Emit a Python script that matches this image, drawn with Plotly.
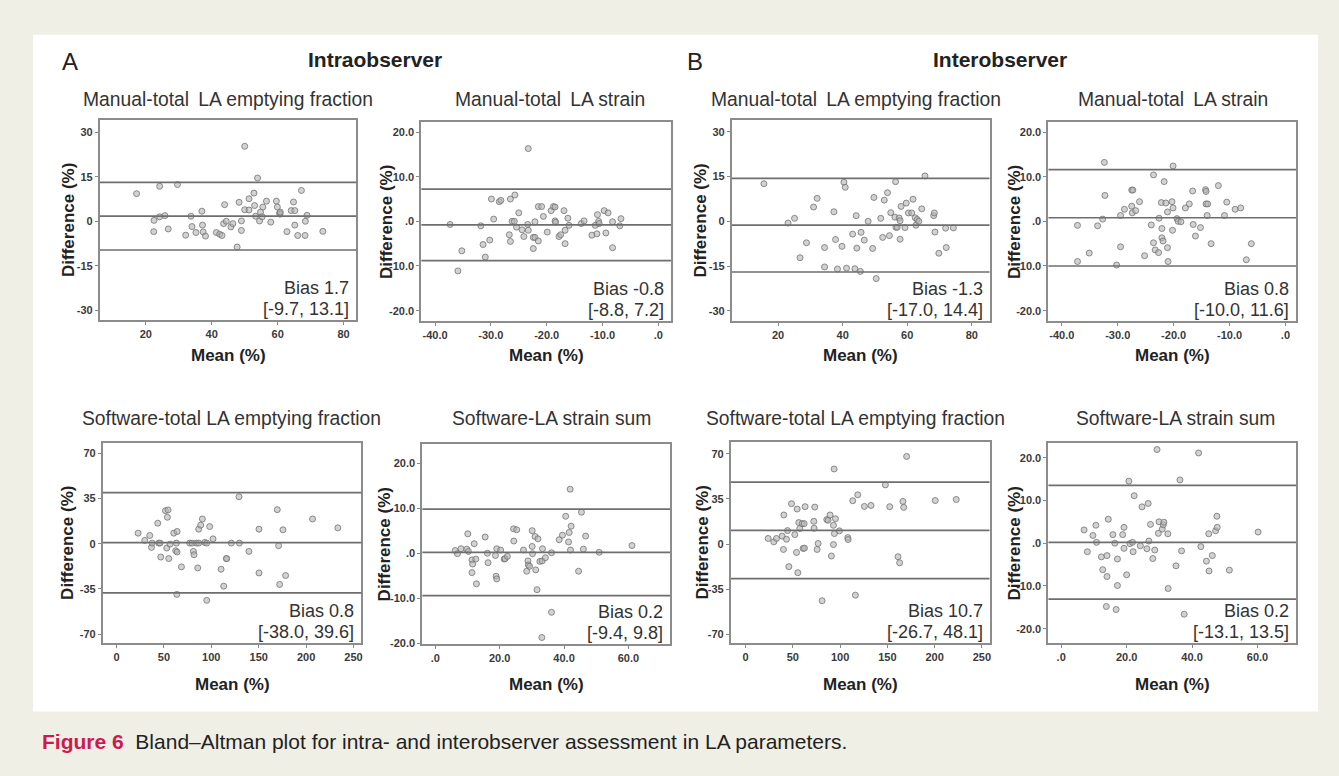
import plotly.graph_objects as go

W, H = 1339, 776

# ---------------- data ----------------
titles = ["Manual-total\u2009 LA emptying fraction", "Manual-total\u2009 LA strain",
          "Manual-total\u2009 LA emptying fraction", "Manual-total\u2009 LA strain",
          "Software-total LA emptying fraction", "Software-LA strain sum",
          "Software-total LA emptying fraction", "Software-LA strain sum"]
bias = [1.7, -0.8, -1.3, 0.8, 0.8, 0.2, 10.7, 0.2]
lower = [-9.7, -8.8, -17.0, -10.0, -38.0, -9.4, -26.7, -13.1]
upper = [13.1, 7.2, 14.4, 11.6, 39.6, 9.8, 48.1, 13.5]

# Intraobserver, manual total LA emptying fraction
p1_mean = [17.2, 24.2, 29.6, 22.5, 22.4, 24.2, 25.8, 26.8, 32.1, 33.7, 34.0, 35.2, 37.0, 37.2, 37.4, 38.1,
           41.4, 42.4, 43.1, 43.9, 43.6, 44.4, 45.8, 46.4, 48.3, 49.0, 49.0, 50.0, 51.3, 47.7, 50.0, 51.3,
           52.8, 53.0, 53.9, 53.3, 54.5, 54.8, 55.3, 55.5, 56.6, 57.9, 59.6, 59.9, 60.6, 60.7, 60.8, 62.8,
           64.1, 64.8, 65.2, 65.2, 66.1, 67.2, 68.3, 68.4, 68.9, 73.7]
p1_diff = [9.3, 11.8, 12.4, 0.3, -3.5, 1.5, 1.9, -2.6, -4.7, 1.7, -1.8, -3.8, 3.4, -1.3, -3.6, -5.0,
           -3.8, -4.4, -4.8, 5.6, -0.8, 0.0, -1.9, -0.8, 6.4, 0.1, -3.1, 3.9, 3.8, -8.7, 25.3, 7.6,
           9.5, 5.3, 14.6, 1.7, 0.1, 3.1, 1.5, 4.8, 6.8, -0.3, 6.8, 4.8, 2.8, 2.4, 3.1, -3.5,
           3.6, 6.5, 3.6, -1.3, -4.8, 10.4, -4.8, 0.0, 2.0, -3.4]

# Intraobserver, manual total LA strain
p2_mean = [-37.3, -31.8, -35.2, -35.9, -31.4, -31.0, -30.2, -29.9, -29.5, -28.5, -28.2, -26.5, -25.7, -26.7,
           -26.5, -26.2, -25.8, -25.4, -25.0, -24.4, -24.1, -23.4, -23.3, -23.3, -22.4, -22.4, -22.1, -22.1,
           -21.5, -21.5, -20.9, -20.6, -19.9, -19.2, -18.8, -18.5, -18.5, -18.4, -17.8, -17.5, -16.9, -16.7,
           -16.7, -16.2, -16.0, -13.8, -13.3, -11.9, -11.3, -11.0, -10.9, -10.7, -10.6, -9.7, -9.4, -9.0,
           -8.2, -8.2, -6.9, -6.7]
p2_diff = [-0.7, -1.0, -6.6, -11.1, -5.2, -8.0, -4.2, 5.0, 0.5, 4.4, 4.7, 5.0, 5.9, -3.0,
           -4.5, 0.0, 0.0, -1.3, 1.9, -1.9, -3.4, -0.7, 16.3, -2.0, -3.6, -6.1, -0.1, -3.6,
           -4.4, 3.3, 3.3, 1.1, -2.4, 2.4, 3.3, 3.2, 0.1, -0.2, -3.4, -3.0, 2.4, -2.0,
           -5.0, 0.7, -0.9, -0.5, 0.1, -3.1, -0.9, -2.8, 1.5, 0.0, -0.5, 2.4, -2.6, 1.9,
           -5.9, -0.1, -1.0, 0.6]

# Interobserver, manual total LA emptying fraction
p3_mean = [15.6, 23.1, 25.1, 26.8, 28.8, 31.0, 32.1, 34.4, 34.4, 37.3, 37.8, 38.4, 39.8, 40.4, 40.8, 41.2,
           43.1, 43.8, 44.2, 44.4, 45.5, 45.7, 46.7, 47.9, 49.3, 49.7, 50.4, 51.8, 52.4, 52.9, 53.9, 54.5,
           54.9, 56.4, 56.2, 56.5, 56.9, 57.5, 57.8, 57.8, 58.1, 59.3, 59.7, 60.4, 61.4, 61.8, 62.5, 62.7,
           63.1, 63.6, 64.5, 65.5, 68.2, 68.4, 68.6, 69.8, 71.9, 72.1, 74.3]
p3_diff = [12.6, -0.6, 1.0, -12.2, -7.2, 4.8, 7.7, -8.8, -15.3, 3.2, -6.1, -16.0, -8.4, 13.1, 11.4, -15.7,
           -4.3, -15.9, 1.9, -9.0, -16.8, -3.7, -6.3, 0.0, -9.1, 8.0, -19.2, 1.0, -5.4, 7.1, 9.6, -4.8,
           2.9, 13.3, 1.4, -2.0, -2.0, 1.1, 0.2, -6.0, 5.0, -2.1, 6.1, 2.8, 2.8, 7.4, 1.2, -1.3,
           0.6, 0.0, 4.2, 15.2, 1.9, 2.8, -3.6, -10.7, -2.3, -8.8, -2.2]

# Interobserver, manual total LA strain
p4_mean = [-37.2, -37.2, -35.1, -33.6, -32.7, -32.4, -32.3, -30.2, -29.5, -29.5, -28.8, -27.5, -27.5, -27.3,
           -27.4, -26.8, -26.1, -25.2, -24.0, -23.6, -23.6, -23.3, -22.7, -22.6, -22.2, -22.1, -22.1, -21.9,
           -21.7, -21.4, -21.1, -21.1, -21.0, -20.3, -20.2, -20.1, -20.1, -19.4, -19.2, -18.7, -17.9, -17.2,
           -16.6, -16.5, -16.1, -15.2, -14.3, -14.2, -14.2, -13.9, -14.0, -13.3, -12.0, -10.9, -10.5, -9.0,
           -8.0, -7.0, -6.1]
p4_diff = [-0.9, -9.0, -7.1, -1.0, 0.5, 13.2, 5.8, -9.8, -5.7, 1.3, 2.7, 3.4, 7.0, 7.0,
           1.9, 2.4, 4.4, -7.7, -0.8, 10.4, -4.8, -6.4, -7.0, 0.7, 4.2, -1.6, -3.7, -4.4,
           8.9, 4.1, 2.1, -5.9, -9.0, 4.4, -2.0, 12.4, 3.0, 0.6, 0.0, -0.1, 3.0, 3.9,
           6.8, -0.7, -3.3, -1.4, 7.1, 6.7, 3.9, 3.9, 1.3, -5.0, 8.0, 1.3, 4.3, 2.7,
           3.0, -8.6, -5.0]

# Intraobserver, software total LA emptying fraction
p5_mean = [22.8, 29.8, 35.1, 36.9, 37.6, 43.5, 44.6, 46.0, 46.7, 51.6, 54.4, 53.7, 53.0, 55.1, 56.5, 60.4,
           62.5, 63.2, 63.9, 63.6, 63.9, 68.5, 77.2, 79.7, 81.1, 81.8, 84.3, 85.7, 86.7, 88.8, 90.6, 86.7,
           93.0, 95.2, 95.2, 98.3, 101.8, 110.3, 115.9, 116.2, 113.1, 121.1, 129.2, 129.6, 139.7, 150.3, 150.3,
           169.6, 171.0, 172.1, 175.6, 178.4, 206.8, 233.5]
p5_diff = [8.2, 2.6, 6.4, -2.8, 0.5, 15.9, 0.5, 0.5, -10.3, 25.6, 26.2, 20.5, -3.3, -11.5, -0.3, 8.2,
           -5.4, 0.5, 9.5, -39.2, -6.4, -17.9, 0.5, 0.5, -5.9, -8.5, 0.5, -18.7, 11.3, 14.4, 19.2, 0.5,
           1.0, 0.5, -43.8, 13.3, 3.8, -19.7, -11.5, -11.5, -32.8, 0.5, 36.4, 0.5, -5.9, 11.3, -22.6,
           26.4, -1.5, -31.5, 10.8, -24.6, 19.2, 12.3]

# Intraobserver, software LA strain sum
p6_mean = [6.2, 6.9, 8.0, 9.8, 10.1, 10.3, 11.4, 11.4, 11.6, 12.1, 12.6, 12.8, 15.5, 16.2, 16.4, 18.7,
           18.9, 19.1, 19.1, 20.3, 21.4, 21.7, 22.4, 24.3, 24.4, 25.3, 27.4, 28.4, 28.8, 28.9, 29.3, 30.1,
           30.1, 30.2, 31.0, 31.2, 31.6, 31.9, 32.5, 33.2, 33.3, 34.2, 33.1, 36.1, 36.1, 38.5, 39.5, 40.5,
           41.4, 41.6, 41.9, 42.0, 42.2, 44.5, 45.4, 46.0, 46.7, 50.9, 61.1]
p6_diff = [0.6, -0.1, 1.0, 0.9, 4.3, 0.4, -1.5, -4.3, -2.4, 2.1, -1.3, -6.8, 3.6, 0.0, -2.1, -0.5,
           -5.1, -5.7, 1.0, 0.7, -1.3, -1.2, -0.7, 5.4, 2.7, 5.2, 0.7, -4.0, -1.7, -2.6, -2.9, 5.0,
           1.5, -0.1, 3.7, -3.7, -8.1, 3.2, -1.8, -1.7, 1.0, -1.0, -18.7, 0.1, -13.1, 3.0, 4.0, 8.2,
           2.5, 4.6, 14.2, 0.7, 6.0, -4.0, 9.1, 0.9, 3.8, 0.2, 1.7]

# Interobserver, software total LA emptying fraction
p7_mean = [23.9, 29.9, 32.7, 38.7, 40.1, 40.5, 43.3, 44.4, 45.8, 48.6, 52.1, 53.9, 54.6, 55.3, 56.3, 57.4,
           59.9, 60.9, 62.0, 62.3, 63.0, 72.2, 72.5, 73.2, 75.7, 76.8, 81.0, 85.9, 87.3, 89.4, 90.8, 93.0,
           93.0, 93.7, 95.1, 94.0, 99.3, 108.1, 108.5, 113.4, 116.2, 118.7, 125.7, 132.7, 147.9, 152.5, 161.3,
           163.0, 166.5, 167.3, 170.4, 200.7, 222.9]
p7_diff = [4.4, 1.8, 4.4, 6.2, -4.1, 22.6, 3.8, 10.5, -17.4, 31.3, 7.4, -6.4, 27.2, -22.1, 16.7, 12.1,
           15.9, -3.3, 15.9, -3.1, 29.0, 17.7, 12.3, 28.7, -4.1, 0.5, -43.8, 19.0, 18.5, 22.6, -9.2, 14.6,
           -0.3, 58.2, 19.7, 8.2, 10.3, 5.1, 3.6, 33.6, -39.5, 38.2, 29.2, 30.0, 45.9, 29.0, -9.7,
           -14.4, 33.1, 28.5, 67.9, 33.8, 34.6]

# Interobserver, software LA strain sum
p8_mean = [7.0, 8.0, 9.7, 10.6, 10.8, 12.3, 12.7, 14.0, 13.8, 14.0, 14.4, 15.8, 16.4, 16.8, 17.2, 17.2,
           18.8, 19.2, 19.2, 20.0, 20.7, 21.0, 21.8, 22.0, 22.3, 24.7, 24.2, 26.2, 26.6, 26.8, 27.3, 28.0,
           28.6, 29.3, 29.7, 29.9, 30.9, 31.2, 31.4, 32.6, 32.7, 35.1, 36.3, 36.8, 37.6, 42.0, 42.7, 44.4,
           45.1, 45.2, 46.2, 47.2, 47.6, 47.7, 51.4, 60.2]
p8_diff = [3.1, -2.0, 1.8, 4.2, 0.2, -3.2, -6.2, -2.9, -14.8, -7.8, 5.6, 2.0, 0.0, -15.5, -3.7, -9.9,
           2.0, 3.7, -1.2, -7.4, 14.5, -0.1, 0.2, -2.0, 11.1, 8.5, -0.6, -1.3, 9.3, 0.5, 4.4, -3.6,
           -1.6, 21.9, 2.3, 5.0, 3.3, 4.3, 4.9, 2.2, -10.6, -5.3, 14.8, -1.8, -16.6, 21.1, -0.8, -4.2,
           2.2, -6.5, -2.9, 2.9, 6.3, 3.7, -6.3, 2.6]

# tick labels
ef_y_ticks = [-30, -15, 0, 15, 30]
ef_y_text = ["-30", "-15", "0", "15", "30"]
ef_x_ticks = [20, 40, 60, 80]
ef_x_text = ["20", "40", "60", "80"]
strain_y_ticks = [-20, -10, 0, 10, 20]
strain_y_text = ["-20.0", "-10.0", ".0", "10.0", "20.0"]
strain_x_ticks = [-40, -30, -20, -10, 0]
strain_x_text = ["-40.0", "-30.0", "-20.0", "-10.0", ".0"]
sef_y_ticks = [-70, -35, 0, 35, 70]
sef_y_text = ["-70", "-35", "0", "35", "70"]
sef_x_ticks = [0, 50, 100, 150, 200, 250]
sef_x_text = ["0", "50", "100", "150", "200", "250"]
sum_y_ticks = [-20, -10, 0, 10, 20]
sum_y_text = ["-20.0", "-10.0", ".0", "10.0", "20.0"]
sum_x_ticks = [0, 20, 40, 60]
sum_x_text = [".0", "20.0", "40.0", "60.0"]

means = [p1_mean, p2_mean, p3_mean, p4_mean, p5_mean, p6_mean, p7_mean, p8_mean]
diffs = [p1_diff, p2_diff, p3_diff, p4_diff, p5_diff, p6_diff, p7_diff, p8_diff]
yticks = [(ef_y_ticks, ef_y_text), (strain_y_ticks, strain_y_text), (ef_y_ticks, ef_y_text),
          (strain_y_ticks, strain_y_text), (sef_y_ticks, sef_y_text), (sum_y_ticks, sum_y_text),
          (sef_y_ticks, sef_y_text), (sum_y_ticks, sum_y_text)]
xticks = [(ef_x_ticks, ef_x_text), (strain_x_ticks, strain_x_text), (ef_x_ticks, ef_x_text),
          (strain_x_ticks, strain_x_text), (sef_x_ticks, sef_x_text), (sum_x_ticks, sum_x_text),
          (sef_x_ticks, sef_x_text), (sum_x_ticks, sum_x_text)]

# ---------------- layout geometry (pixels) ----------------
boxes = [(100, 357, 121, 322), (422, 672, 123, 323), (733, 991, 121, 323), (1050, 1298, 123, 323),
         (103, 362, 446, 647), (423, 671, 447, 648), (732, 991, 445, 647), (1050, 1298, 446, 647)]
xranges = [[6.06, 83.9], [-42.45, 2.27], [5.7, 85.5], [-42.4, 1.9],
           [-14.4, 258.4], [-4.0, 72.9], [-15.5, 258.1], [-3.9, 71.8]]
yranges = [[-33.3, 34.1], [-22.3, 22.2], [-33.4, 33.9], [-22.3, 22.2],
           [-76.7, 77.9], [-20.1, 24.2], [-76.4, 79.0], [-23.3, 23.4]]
ytitle_x = [68, 387, 702, 1016, 68, 386, 704, 1016]
title_x = [228, 551, 857, 1175, 232, 552, 857, 1177]

FONT = "Liberation Sans, Arial, sans-serif"
TXT = "#333333"


def px(x):
    return x / W


def py(y):
    return 1 - y / H


fig = go.Figure()
annotations = []
shapes = []

# white panel
shapes.append(dict(type="rect", xref="paper", yref="paper", x0=px(33), x1=px(1320), y0=py(716), y1=py(35),
                   fillcolor="white", line=dict(width=0), layer="below"))

for i in range(8):
    n = i + 1
    xa = "x" if n == 1 else f"x{n}"
    ya = "y" if n == 1 else f"y{n}"
    L, R, T, B = boxes[i]
    fig.add_trace(go.Scatter(
        x=means[i], y=diffs[i], mode="markers", xaxis=xa, yaxis=ya, showlegend=False,
        marker=dict(size=6, color="rgba(180,180,180,0.6)", line=dict(color="rgba(115,115,115,0.8)", width=1))))
    axcommon = dict(showgrid=False, zeroline=False, showline=True, mirror=True, linecolor="#8c8c8c",
                    linewidth=2, ticks="outside", ticklen=3, tickwidth=1, tickcolor="#888",
                    tickfont=dict(family=FONT, size=11, color="#3a3a3a", weight="bold"))
    xkey = "xaxis" if n == 1 else f"xaxis{n}"
    ykey = "yaxis" if n == 1 else f"yaxis{n}"
    fig.update_layout(**{
        xkey: dict(axcommon, domain=[px(L), px(R)], range=xranges[i], anchor=ya,
                   tickmode="array", tickvals=xticks[i][0], ticktext=xticks[i][1]),
        ykey: dict(axcommon, domain=[py(B), py(T)], range=yranges[i], anchor=xa,
                   tickmode="array", tickvals=yticks[i][0], ticktext=yticks[i][1]),
    })
    # reference lines
    for v in (upper[i], bias[i], lower[i]):
        shapes.append(dict(type="line", xref=f"{xa} domain", yref=ya, x0=0, x1=1, y0=v, y1=v,
                           line=dict(color="#6e6e6e", width=1.7)))
    # bias text
    annotations.append(dict(xref=f"{xa} domain", yref=f"{ya} domain", x=1, y=0, xshift=-5, yshift=32,
                            xanchor="right", yanchor="middle", showarrow=False,
                            text=f"Bias {bias[i]:.1f}", font=dict(family=FONT, size=18, color=TXT)))
    annotations.append(dict(xref=f"{xa} domain", yref=f"{ya} domain", x=1, y=0, xshift=-5, yshift=11,
                            xanchor="right", yanchor="middle", showarrow=False,
                            text=f"[{lower[i]:.1f}, {upper[i]:.1f}]", font=dict(family=FONT, size=18, color=TXT)))
    # panel title
    ty = 100 if i < 4 else 421
    annotations.append(dict(xref="paper", yref="paper", x=px(title_x[i]), y=py(ty), xanchor="center",
                            yanchor="middle", showarrow=False, text=titles[i],
                            font=dict(family=FONT, size=19.3, color=TXT)))
    # y title
    annotations.append(dict(xref="paper", yref="paper", x=px(ytitle_x[i]), y=py((T + B) / 2),
                            xanchor="center", yanchor="middle", showarrow=False, textangle=-90,
                            text="<b>Difference (%)</b>", font=dict(family=FONT, size=17, color="#222")))
    # x title
    xy = 358 if i < 4 else 689
    annotations.append(dict(xref="paper", yref="paper", x=px((L + R) / 2), y=py(xy),
                            xanchor="center", yanchor="middle", showarrow=False,
                            text="<b>Mean (%)</b>", font=dict(family=FONT, size=17, color="#222")))

# panel letters and headers
annotations.append(dict(xref="paper", yref="paper", x=px(70), y=py(62), xanchor="center", yanchor="middle",
                        showarrow=False, text="A", font=dict(family=FONT, size=24, color="#222")))
annotations.append(dict(xref="paper", yref="paper", x=px(696), y=py(62), xanchor="center", yanchor="middle",
                        showarrow=False, text="B", font=dict(family=FONT, size=24, color="#222")))
annotations.append(dict(xref="paper", yref="paper", x=px(376), y=py(60), xanchor="center", yanchor="middle",
                        showarrow=False, text="<b>Intraobserver</b>", font=dict(family=FONT, size=21, color="#222")))
annotations.append(dict(xref="paper", yref="paper", x=px(1001), y=py(60), xanchor="center", yanchor="middle",
                        showarrow=False, text="<b>Interobserver</b>", font=dict(family=FONT, size=21, color="#222")))
# caption
annotations.append(dict(xref="paper", yref="paper", x=px(40), y=py(746), xanchor="left", yanchor="middle",
                        showarrow=False,
                        text="<b><span style='color:#cc1a4e'>Figure 6</span></b>\u00a0 Bland\u2013Altman plot for intra- and interobserver assessment in LA parameters.",
                        font=dict(family=FONT, size=21, color="#222")))

fig.update_layout(width=W, height=H, autosize=False, margin=dict(l=0, r=0, t=0, b=0, pad=0),
                  paper_bgcolor="#efefe6", plot_bgcolor="white", showlegend=False,
                  annotations=annotations, shapes=shapes)

fig.write_html("out.html")
